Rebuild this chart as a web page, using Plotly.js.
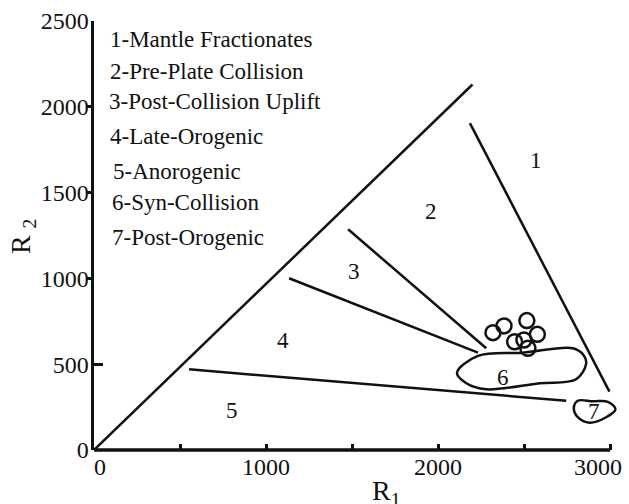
<!DOCTYPE html>
<html>
<head>
<meta charset="utf-8">
<script src="https://cdn.plot.ly/plotly-3.0.1.min.js"></script>
<style>html,body{margin:0;padding:0;background:#fff;}#chart{width:629px;height:504px;}</style>
</head>
<body>
<div id="chart"></div>
<script>
// ---- data ----
const diagX = [0, 2200];
const diagY = [0, 2130];
const line12X = [2185, 2996];
const line12Y = [1905, 340];
const line23X = [1477, 2280];
const line23Y = [1286, 593];
const line34X = [1134, 2232];
const line34Y = [1001, 567];
const line45X = [553, 2745];
const line45Y = [470, 287];
const field6X = [2493, 2783, 2845, 2861, 2803, 2590, 2280, 2164, 2110, 2232, 2493];
const field6Y = [567, 593, 554, 505, 412, 389, 354, 389, 450, 548, 567];
const field7X = [2900, 2987, 3031, 2977, 2880, 2812, 2789, 2812, 2900];
const field7Y = [284, 281, 237, 191, 159, 191, 243, 287, 284];
const sampleR1 = [2319, 2383, 2516, 2577, 2445, 2499, 2522];
const sampleR2 = [684, 723, 754, 674, 631, 641, 593];
const fieldLabels = ['1', '2', '3', '4', '5', '6', '7'];
const fieldLabelX = [2567, 1957, 1510, 1098, 801, 2375, 2904];
const fieldLabelY = [1690, 1387, 1043, 641, 233, 425, 227];
const legendLines = ['1-Mantle Fractionates', '2-Pre-Plate Collision', '3-Post-Collision Uplift',
  '4-Late-Orogenic', '5-Anorogenic', '6-Syn-Collision', '7-Post-Orogenic'];
const xTickVals = [0, 500, 1000, 1500, 2000, 2500, 3000];
const xTickText = ['\u00a0\u00a00', '', '1000', '', '2000', '', '3000\u00a0\u00a0\u00a0\u00a0'];
const yTickVals = [0, 500, 1000, 1500, 2000, 2500];
const yTickText = ['0', '500', '1000', '1500', '2000', '2500'];
const yOutTicks = [1000, 1500, 2000];
const yInTicks = [500, 2500];

// ---- styling / layout ----
const FONT = 'Liberation Serif';
const INK = '#111';
const L = 94, R = 11.5, T = 21, B = 54;
const W = 629, H = 504;
const PW = W - L - R, PH = H - T - B;
function px2paperX(p) { return (p - L) / PW; }
function px2paperY(p) { return (H - B - p) / PH; }

function seg(x, y, yaxis) {
  return {type: 'scatter', mode: 'lines', x: x, y: y, yaxis: yaxis || 'y',
    line: {color: INK, width: 2.5}, hoverinfo: 'skip', showlegend: false};
}

const traces = [
  seg(diagX, diagY),
  seg(line12X, line12Y),
  seg(line23X, line23Y),
  seg(line34X, line34Y),
  seg(line45X, line45Y),
  Object.assign(seg(field6X, field6Y, 'y3'), {line: {color: INK, width: 2.5, shape: 'spline', smoothing: 1}}),
  Object.assign(seg(field7X, field7Y, 'y2'), {line: {color: INK, width: 2.5, shape: 'spline', smoothing: 1}}),
  {type: 'scatter', mode: 'markers', x: sampleR1, y: sampleR2, showlegend: false, hoverinfo: 'skip',
    marker: {symbol: 'circle-open', size: 15, color: INK, line: {width: 2.5, color: INK}}}
];

const legendX = [108, 108, 107, 108, 111, 110, 110];
const legendY = [39, 72, 101, 137, 171, 203, 237];

const annotations = [];
legendLines.forEach(function (t, i) {
  annotations.push({xref: 'paper', yref: 'paper', x: px2paperX(legendX[i]), y: px2paperY(legendY[i]),
    xanchor: 'left', yanchor: 'middle', text: t, showarrow: false,
    font: {family: FONT, size: 23, color: INK}});
});
fieldLabels.forEach(function (t, i) {
  annotations.push({xref: 'x', yref: 'y', x: fieldLabelX[i], y: fieldLabelY[i],
    xanchor: 'center', yanchor: 'middle', text: t, showarrow: false,
    font: {family: FONT, size: 23, color: INK}});
});
annotations.push({xref: 'paper', yref: 'paper', x: px2paperX(22), y: px2paperY(237),
  xanchor: 'center', yanchor: 'middle', textangle: -90, text: 'R <sub>2</sub>', showarrow: false,
  font: {family: FONT, size: 28, color: INK}});
annotations.push({xref: 'paper', yref: 'paper', x: px2paperX(386), y: px2paperY(492),
  xanchor: 'center', yanchor: 'middle', text: 'R<sub>1</sub>', showarrow: false,
  font: {family: FONT, size: 28, color: INK}});

const baseAxis = {showgrid: false, zeroline: false, fixedrange: true};

const layout = {
  width: W, height: H,
  margin: {l: L, r: R, t: T, b: B, pad: 0},
  paper_bgcolor: '#fff', plot_bgcolor: '#fff',
  showlegend: false,
  font: {family: FONT, color: INK},
  xaxis: Object.assign({}, baseAxis, {
    range: [0, 3040], showline: false, ticks: 'inside', ticklen: 6, tickwidth: 3, tickcolor: INK,
    tickmode: 'array', tickvals: xTickVals, ticktext: xTickText, ticklabeloverflow: 'allow',
    tickfont: {family: FONT, size: 24, color: INK}
  }),
  yaxis: Object.assign({}, baseAxis, {
    range: [0, 2500], showline: true, linewidth: 3.5, linecolor: INK, ticks: '',
    tickmode: 'array', tickvals: yTickVals, ticktext: yTickText, ticklabelstandoff: -3,
    ticklabeloverflow: 'allow',
    tickfont: {family: FONT, size: 24, color: INK}
  }),
  yaxis2: Object.assign({}, baseAxis, {
    overlaying: 'y', side: 'left', range: [0, 2500], showline: false, showticklabels: false,
    ticks: 'outside', ticklen: 6, tickwidth: 3, tickcolor: INK, tickmode: 'array', tickvals: yOutTicks
  }),
  yaxis3: Object.assign({}, baseAxis, {
    overlaying: 'y', side: 'left', range: [0, 2500], showline: false, showticklabels: false,
    ticks: 'inside', ticklen: 9, tickwidth: 3, tickcolor: INK, tickmode: 'array', tickvals: yInTicks
  }),
  shapes: [
    {type: 'line', xref: 'x', yref: 'paper', x0: 0, x1: 3000, y0: 0, y1: 0,
      line: {color: INK, width: 3.5}, layer: 'above'}
  ],
  annotations: annotations
};

Plotly.newPlot('chart', traces, layout, {displayModeBar: false, staticPlot: true});
</script>
</body>
</html>
